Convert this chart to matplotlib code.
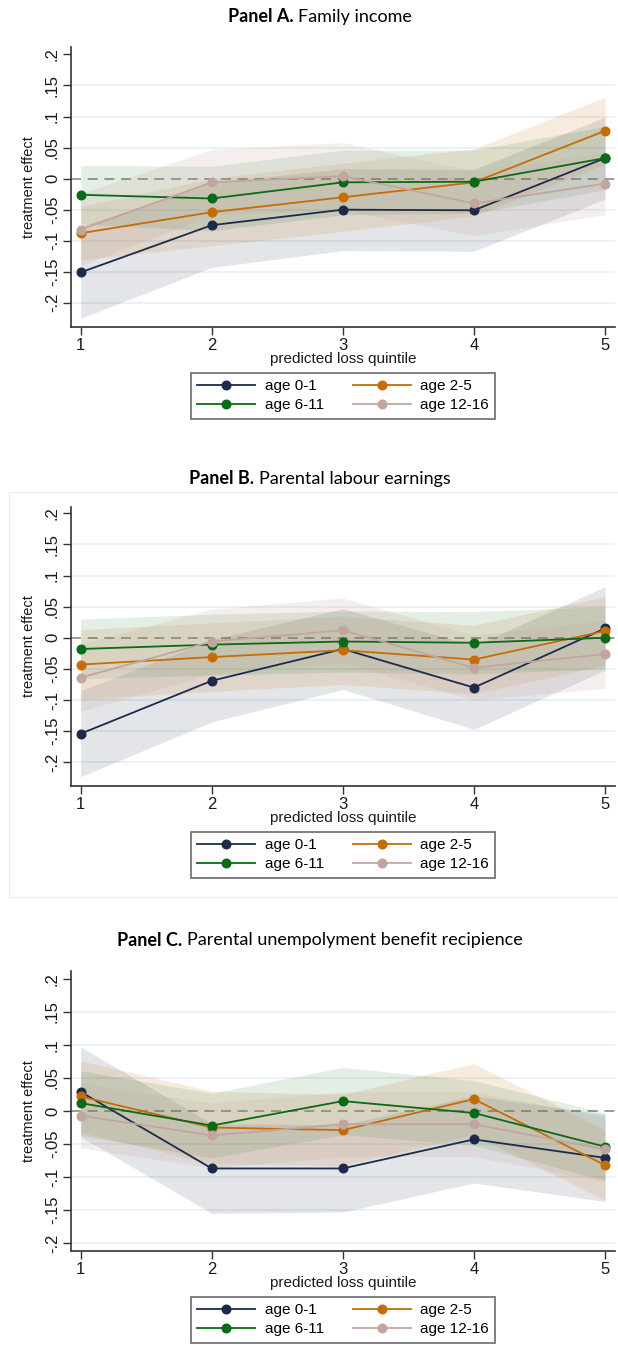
import matplotlib
matplotlib.use("Agg")
import matplotlib.pyplot as plt
from matplotlib.lines import Line2D
from matplotlib.patches import Rectangle

# ---------------- data ----------------
quintiles = [1, 2, 3, 4, 5]
groups = ["age 0-1", "age 2-5", "age 6-11", "age 12-16"]
panel_bold = ["Panel A.", "Panel B.", "Panel C."]
panel_names = ["Family income", "Parental labour earnings",
               "Parental unempolyment benefit recipience"]
ytick_vals = [-0.2, -0.15, -0.1, -0.05, 0, 0.05, 0.1, 0.15, 0.2]
ytick_labels = ["-.2", "-.15", "-.1", "-.05", "0", ".05", ".1", ".15", ".2"]
grid_vals = [-0.2, -0.15, -0.1, -0.05, 0.05, 0.1, 0.15]

# Panel A: Family income
a_est_01 = [-0.151, -0.075, -0.050, -0.051, 0.033]
a_lo_01 = [-0.225, -0.143, -0.116, -0.117, -0.033]
a_hi_01 = [-0.077, -0.007, 0.016, 0.015, 0.099]
a_est_25 = [-0.088, -0.054, -0.030, -0.006, 0.077]
a_lo_25 = [-0.131, -0.108, -0.085, -0.060, 0.023]
a_hi_25 = [-0.045, 0.000, 0.025, 0.048, 0.131]
a_est_611 = [-0.026, -0.032, -0.006, -0.005, 0.033]
a_lo_611 = [-0.073, -0.084, -0.058, -0.056, -0.018]
a_hi_611 = [0.021, 0.020, 0.046, 0.046, 0.084]
a_est_1216 = [-0.082, -0.006, 0.004, -0.040, -0.008]
a_lo_1216 = [-0.140, -0.059, -0.050, -0.092, -0.058]
a_hi_1216 = [-0.024, 0.047, 0.058, 0.012, 0.042]

# Panel B: Parental labour earnings
b_est_01 = [-0.154, -0.069, -0.018, -0.080, 0.015]
b_lo_01 = [-0.223, -0.135, -0.083, -0.147, -0.052]
b_hi_01 = [-0.085, -0.003, 0.047, -0.013, 0.082]
b_est_25 = [-0.043, -0.031, -0.020, -0.035, 0.011]
b_lo_25 = [-0.099, -0.086, -0.075, -0.090, -0.044]
b_hi_25 = [0.013, 0.024, 0.035, 0.020, 0.066]
b_est_611 = [-0.018, -0.011, -0.006, -0.008, 0.000]
b_lo_611 = [-0.066, -0.060, -0.055, -0.058, -0.050]
b_hi_611 = [0.030, 0.038, 0.043, 0.042, 0.050]
b_est_1216 = [-0.064, -0.006, 0.012, -0.048, -0.026]
b_lo_1216 = [-0.118, -0.058, -0.040, -0.100, -0.081]
b_hi_1216 = [-0.010, 0.046, 0.064, 0.004, 0.029]

# Panel C: Parental unemployment benefit recipience
c_est_01 = [0.029, -0.087, -0.087, -0.043, -0.071]
c_lo_01 = [-0.039, -0.155, -0.153, -0.109, -0.137]
c_hi_01 = [0.097, -0.019, -0.021, 0.023, -0.005]
c_est_25 = [0.022, -0.025, -0.029, 0.018, -0.082]
c_lo_25 = [-0.032, -0.080, -0.083, -0.036, -0.135]
c_hi_25 = [0.076, 0.030, 0.025, 0.072, -0.029]
c_est_611 = [0.012, -0.022, 0.015, -0.003, -0.054]
c_lo_611 = [-0.037, -0.071, -0.036, -0.052, -0.105]
c_hi_611 = [0.061, 0.027, 0.066, 0.046, -0.003]
c_est_1216 = [-0.007, -0.037, -0.020, -0.020, -0.058]
c_lo_1216 = [-0.056, -0.086, -0.069, -0.069, -0.107]
c_hi_1216 = [0.042, 0.012, 0.029, 0.029, -0.009]

panels = [
    [(a_est_01, a_lo_01, a_hi_01), (a_est_25, a_lo_25, a_hi_25),
     (a_est_611, a_lo_611, a_hi_611), (a_est_1216, a_lo_1216, a_hi_1216)],
    [(b_est_01, b_lo_01, b_hi_01), (b_est_25, b_lo_25, b_hi_25),
     (b_est_611, b_lo_611, b_hi_611), (b_est_1216, b_lo_1216, b_hi_1216)],
    [(c_est_01, c_lo_01, c_hi_01), (c_est_25, c_lo_25, c_hi_25),
     (c_est_611, c_lo_611, c_hi_611), (c_est_1216, c_lo_1216, c_hi_1216)],
]

colors = ["#1c2b4c", "#c66c06", "#0b6a17", "#c3a59f"]
band_alpha = [0.12, 0.13, 0.11, 0.18]

# ---------------- layout ----------------
W, H = 618, 1345
fig = plt.figure(figsize=(W / 100, H / 100), dpi=100)
plt.rcParams['font.family'] = ['Liberation Sans', 'DejaVu Sans']

ax_left, ax_right = 71, 615
ax_spans = [(47, 327), (507, 786), (971, 1251)]      # top, bottom pixels
ylims = [(-0.239, 0.212), (-0.238, 0.210), (-0.212, 0.212)]
title_y = [17, 479, 940]
title_cx = 320

# faint frame around panel B (as in source image)
fig.patches.append(Rectangle((9 / W, 1 - 897 / H), 1.0, (897 - 492) / H,
                             transform=fig.transFigure, fill=False,
                             edgecolor="#ececec", lw=1.0))

title_items = []
for p in range(3):
    top, bot = ax_spans[p]
    ax = fig.add_axes([ax_left / W, 1 - bot / H, (ax_right - ax_left) / W, (bot - top) / H])
    ax.set_xlim(0.926, 5.076)
    ax.set_ylim(*ylims[p])
    for g in grid_vals:
        ax.axhline(g, color="#e9f1f3", lw=1.3, zorder=0)
    ax.axhline(0, color="#8a8a8a", lw=1.2, ls=(0, (6, 4)), zorder=1)
    for k, (est, lo, hi) in enumerate(panels[p]):
        ax.fill_between(quintiles, lo, hi, color=colors[k], alpha=band_alpha[k],
                        lw=0, zorder=2)
    for k, (est, lo, hi) in enumerate(panels[p]):
        ax.plot(quintiles, est, color=colors[k], lw=1.3, marker="o", ms=6.2,
                zorder=3 + k)
    for s in ["top", "right"]:
        ax.spines[s].set_visible(False)
    for s in ["left", "bottom"]:
        ax.spines[s].set_color("#333333")
        ax.spines[s].set_linewidth(1.2)
    ax.set_xticks(quintiles)
    ax.set_xticklabels([str(q) for q in quintiles])
    ax.set_yticks(ytick_vals)
    ax.set_yticklabels(ytick_labels, rotation=90, va="center")
    ax.tick_params(axis="both", direction="out", length=5.5, width=1.0,
                   color="#333333", labelsize=12, labelcolor="#1a1a1a", pad=2.5)
    ax.set_xlabel("predicted loss quintile", fontsize=11, labelpad=-1, color="#1a1a1a")
    ax.set_ylabel("treatment effect", fontsize=10.5, labelpad=1, color="#1a1a1a")
    ax.yaxis.set_label_coords(-(ax_left - 36) / (ax_right - ax_left), 0.5)

    handles = [Line2D([], [], color=colors[k], lw=1.3, marker="o", ms=6.2) for k in range(4)]
    order = [0, 2, 1, 3]
    leg = ax.legend([handles[i] for i in order], [groups[i] for i in order],
                    ncol=2, loc="upper center",
                    bbox_to_anchor=((343 - ax_left) / (ax_right - ax_left), -46 / (bot - top)),
                    borderaxespad=0, frameon=True, fancybox=False, fontsize=11,
                    handlelength=3.8, handletextpad=0.6, columnspacing=1.9,
                    labelspacing=0.35, borderpad=0.4)
    leg.get_frame().set_edgecolor("#444444")
    leg.get_frame().set_linewidth(1.2)

    tb = fig.text(0, 1 - title_y[p] / H, panel_bold[p] + " ", fontsize=13,
                  fontweight="bold", family=["Lato", "DejaVu Sans"], va="center", ha="left")
    tr = fig.text(0, 1 - title_y[p] / H, panel_names[p], fontsize=13,
                  family=["Lato", "DejaVu Sans"], va="center", ha="left")
    title_items.append((tb, tr))

fig.canvas.draw()
r = fig.canvas.get_renderer()
for tb, tr in title_items:
    wb = tb.get_window_extent(r).width
    wr = tr.get_window_extent(r).width
    x0 = title_cx - (wb + wr) / 2
    tb.set_x(x0 / W)
    tr.set_x((x0 + wb) / W)

fig.savefig("out.png", dpi=100)
